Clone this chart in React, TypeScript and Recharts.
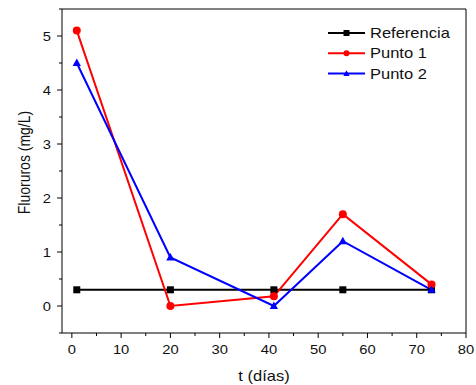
import React from 'react';
import { LineChart, Line, XAxis, YAxis, ReferenceLine, Legend } from 'recharts';

// Sampling days and fluoride concentrations (mg/L)
const days = [1, 20, 41, 55, 73];
const referencia = [0.3, 0.3, 0.3, 0.3, 0.3];
const punto1 = [5.1, 0, 0.18, 1.7, 0.4];
const punto2 = [4.5, 0.9, 0, 1.2, 0.3];

const xMajorTicks = [0, 10, 20, 30, 40, 50, 60, 70, 80];
const xMinorTicks = [5, 15, 25, 35, 45, 55, 65, 75];
const yMajorTicks = [0, 1, 2, 3, 4, 5];
const yMinorTicks = [-0.5, 0.5, 1.5, 2.5, 3.5, 4.5, 5.5];

const X_DOMAIN: [number, number] = [-2, 80];
const Y_DOMAIN: [number, number] = [-0.5, 5.5];

const data = days.map((t, i) => ({
  t,
  referencia: referencia[i],
  punto1: punto1[i],
  punto2: punto2[i],
}));

type Shape = 'square' | 'circle' | 'triangle';

const series: { key: string; name: string; color: string; shape: Shape }[] = [
  { key: 'referencia', name: 'Referencia', color: '#000000', shape: 'square' },
  { key: 'punto1', name: 'Punto 1', color: '#ff0000', shape: 'circle' },
  { key: 'punto2', name: 'Punto 2', color: '#0000ff', shape: 'triangle' },
];

const FONT = '"Liberation Sans", Arial, sans-serif';
const STRETCH = 1.18;

function Marker({ shape, cx, cy, size, color }: { shape: Shape; cx: number; cy: number; size: number; color: string }) {
  if (shape === 'square') {
    return <rect x={cx - size / 2} y={cy - size / 2} width={size} height={size} fill={color} />;
  }
  if (shape === 'circle') {
    return <circle cx={cx} cy={cy} r={size / 2} fill={color} />;
  }
  const hw = size * 0.52;
  return (
    <polygon
      points={`${cx},${cy - size * 0.55} ${cx - hw},${cy + size * 0.38} ${cx + hw},${cy + size * 0.38}`}
      fill={color}
    />
  );
}

const makeDot = (shape: Shape, color: string, size: number) => (props: any) => {
  const { cx, cy, index } = props;
  if (cx == null || cy == null) return <g key={`d-${index}`} />;
  return (
    <g key={`d-${shape}-${index}`}>
      <Marker shape={shape} cx={cx} cy={cy} size={size} color={color} />
    </g>
  );
};

const YTick = (props: any) => {
  const { x, y, payload } = props;
  const major = yMajorTicks.includes(payload.value);
  return (
    <g>
      <line x1={x - (major ? 5 : 3)} x2={x} y1={y} y2={y} stroke="#000" strokeWidth={1} />
      {major && (
        <text
          transform={`translate(${x - 11},${y + 4.5}) scale(${STRETCH},1)`}
          textAnchor="end"
          fontSize={12.5}
          fontFamily={FONT}
          fill="#111"
        >
          {payload.value}
        </text>
      )}
    </g>
  );
};

const XTick = (props: any) => {
  const { x, y, payload } = props;
  const major = xMajorTicks.includes(payload.value);
  return (
    <g>
      <line x1={x} x2={x} y1={y} y2={y + (major ? 5 : 3)} stroke="#000" strokeWidth={1} />
      {major && (
        <text
          transform={`translate(${x},${y + 21}) scale(${STRETCH},1)`}
          textAnchor="middle"
          fontSize={12.5}
          fontFamily={FONT}
          fill="#111"
        >
          {payload.value}
        </text>
      )}
    </g>
  );
};

const seriesIndex = (key: any) => series.findIndex((d) => d.key === key);

const renderLegend = (props: any) => {
  const payload: any[] = [...(props.payload || [])].sort(
    (a, b) => seriesIndex(a.dataKey) - seriesIndex(b.dataKey)
  );
  return (
    <svg width={150} height={70} style={{ display: 'block', overflow: 'visible' }}>
      {payload.map((entry, i) => {
        const s = series[seriesIndex(entry.dataKey)] || series[i];
        const cy = 13 + i * 20.3;
        return (
          <g key={s.key}>
            <line x1={8} x2={45} y1={cy} y2={cy} stroke={s.color} strokeWidth={2} />
            <Marker shape={s.shape} cx={26.5} cy={cy} size={6} color={s.color} />
            <text
              transform={`translate(50,${cy + 5}) scale(${STRETCH},1)`}
              fontSize={14}
              fontFamily={FONT}
              fill="#111"
            >
              {entry.value}
            </text>
          </g>
        );
      })}
    </svg>
  );
};

export default function App() {
  return (
    <div style={{ position: 'absolute', left: 0, top: 0, width: 476, height: 385, background: '#fff' }}>
      <LineChart width={476} height={385} data={data} margin={{ top: 9, right: 10, left: 0, bottom: 0 }}>
        <XAxis
          dataKey="t"
          type="number"
          domain={X_DOMAIN}
          allowDataOverflow
          ticks={[...xMajorTicks, ...xMinorTicks].sort((a, b) => a - b)}
          interval={0}
          height={52}
          tickSize={0}
          tickMargin={0}
          tickLine={false}
          axisLine={{ stroke: '#000', strokeWidth: 1 }}
          tick={<XTick />}
          label={{
            content: () => (
              <text
                transform={`translate(264,381) scale(${STRETCH},1)`}
                textAnchor="middle"
                fontSize={14}
                fontFamily={FONT}
                fill="#111"
              >
                t (días)
              </text>
            ),
          }}
        />
        <YAxis
          type="number"
          domain={Y_DOMAIN}
          allowDataOverflow
          ticks={[...yMajorTicks, ...yMinorTicks].sort((a, b) => a - b)}
          interval={0}
          width={62}
          tickSize={0}
          tickMargin={0}
          tickLine={false}
          axisLine={{ stroke: '#000', strokeWidth: 1 }}
          tick={<YTick />}
          label={{
            content: () => (
              <text
                transform={`translate(30,162.5) scale(${STRETCH},1) rotate(-90)`}
                textAnchor="middle"
                fontSize={14}
                fontFamily={FONT}
                fill="#111"
              >
                Fluoruros (mg/L)
              </text>
            ),
          }}
        />
        <ReferenceLine y={Y_DOMAIN[1]} stroke="#000" strokeWidth={1} />
        <ReferenceLine x={X_DOMAIN[1]} stroke="#000" strokeWidth={1} />
        {series.map((s) => (
          <Line
            key={s.key}
            type="linear"
            dataKey={s.key}
            name={s.name}
            stroke={s.color}
            strokeWidth={2}
            dot={makeDot(s.shape, s.color, s.shape === 'square' ? 7 : 8)}
            activeDot={false}
            isAnimationActive={false}
          />
        ))}
        <Legend
          layout="vertical"
          align="center"
          verticalAlign="middle"
          wrapperStyle={{ position: 'absolute', top: 20, left: 320, width: 150, height: 70 }}
          content={renderLegend}
        />
      </LineChart>
    </div>
  );
}
